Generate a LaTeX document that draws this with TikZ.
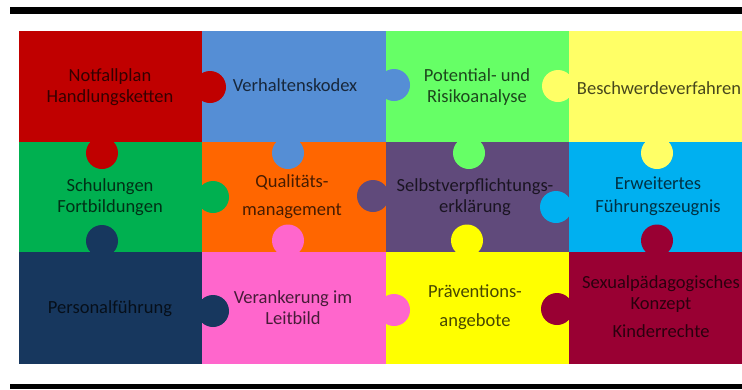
\documentclass[tikz,border=0pt]{standalone}
\usepackage{fontspec}
\setmainfont{Carlito}
\definecolor{pRed}{HTML}{C00000}
\definecolor{pBlue}{HTML}{558ED5}
\definecolor{pLime}{HTML}{66FF66}
\definecolor{pLemon}{HTML}{FFFF66}
\definecolor{pGreen}{HTML}{00B050}
\definecolor{pOrange}{HTML}{FF6600}
\definecolor{pPurple}{HTML}{604A7B}
\definecolor{pCyan}{HTML}{00B0F0}
\definecolor{pNavy}{HTML}{17375E}
\definecolor{pPink}{HTML}{FF66CC}
\definecolor{pYellow}{HTML}{FFFF00}
\definecolor{pMaroon}{HTML}{990033}

\begin{document}
\begin{tikzpicture}[x=1pt,y=-1pt,
  piece/.style={align=center,font=\fontsize{18.5}{21}\selectfont,text opacity=0.72,inner sep=0pt},
  knob/.style={line width=0pt}]
\useasboundingbox (0,0) rectangle (742,389);
\fill[white] (0,0) rectangle (742,389);

\fill[black] (10,7) rectangle (742,14);      %top bar
\fill[black] (10,384) rectangle (742,389);   %bottom bar

%tiles, row by row
\fill[pRed]    (18.5,31)  rectangle (202,141.5);  %1
\fill[pBlue]   (202,31)   rectangle (386,141.5);  %2
\fill[pLime]   (386,31)   rectangle (569,141.5);  %3
\fill[pLemon]  (569,31)   rectangle (742,141.5);  %4
\fill[pGreen]  (18.5,141.5) rectangle (202,252);  %5
\fill[pOrange] (202,141.5) rectangle (386,252);   %6
\fill[pPurple] (386,141.5) rectangle (569,252);   %7
\fill[pCyan]   (569,141.5) rectangle (742,252);   %8
\fill[pNavy]   (18.5,252) rectangle (202,364);    %9
\fill[pPink]   (202,252)  rectangle (386,364);    %10
\fill[pYellow] (386,252)  rectangle (569,364);    %11
\fill[pMaroon] (569,252)  rectangle (742,364);    %12

%knobs
\fill[pRed]    (210,87)      circle (16pt); %1 -> 2
\fill[pRed]    (102,153)     circle (16pt); %1 -> 5
\fill[pBlue]   (394,85)      circle (16pt); %2 -> 3
\fill[pBlue]   (288,153)     circle (16pt); %2 -> 6
\fill[pLemon]  (558,86)      circle (16pt); %4 -> 3
\fill[pLime]   (469,153)     circle (16pt); %3 -> 7
\fill[pLemon]  (657,153)     circle (16pt); %4 -> 8
\fill[pGreen]  (213,197)     circle (16pt); %5 -> 6
\fill[pPurple] (373,196)     circle (16pt); %7 -> 6
\fill[pCyan]   (556,207)     circle (16pt); %8 -> 7
\fill[pNavy]   (102,241)     circle (16pt); %9 -> 5
\fill[pPink]   (288,240.5)   circle (16pt); %10 -> 6
\fill[pYellow] (467,240.5)   circle (16pt); %11 -> 7
\fill[pMaroon] (657,240.5)   circle (16pt); %12 -> 8
\fill[pNavy]   (213,311)     circle (16pt); %9 -> 10
\fill[pPink]   (394,310)     circle (16pt); %10 -> 11
\fill[pMaroon] (557,309)     circle (16pt); %12 -> 11

%labels
\node[piece] (notfall)     at (110,87)  {Notfallplan\\Handlungsketten};
\node[piece] (kodex)       at (295,85)  {Verhaltenskodex};
\node[piece] (risiko)      at (477,87)  {Potential- und\\Risikoanalyse};
\node[piece] (beschwerde)  at (659,88)  {Beschwerdeverfahren};
\node[piece] (schulung)    at (110,197.5) {Schulungen\\Fortbildungen};
\node[piece] (qualitaet)   at (292,197) {Qualitäts-\\[7pt]management};
\node[piece] (selbst)      at (475,197.5) {Selbstverpflichtungs-\\erklärung};
\node[piece] (zeugnis)     at (658,196.5) {Erweitertes\\[2pt]Führungszeugnis};
\node[piece] (personal)    at (110,309) {Personalführung};
\node[piece] (leitbild)    at (293,308) {Verankerung im\\Leitbild};
\node[piece] (praevention) at (475,307) {Präventions-\\[8pt]angebote};
\node[piece] (sexual)      at (661,307) {Sexualpädagogisches\\Konzept\\[7pt]Kinderrechte};

\end{tikzpicture}
\end{document}
